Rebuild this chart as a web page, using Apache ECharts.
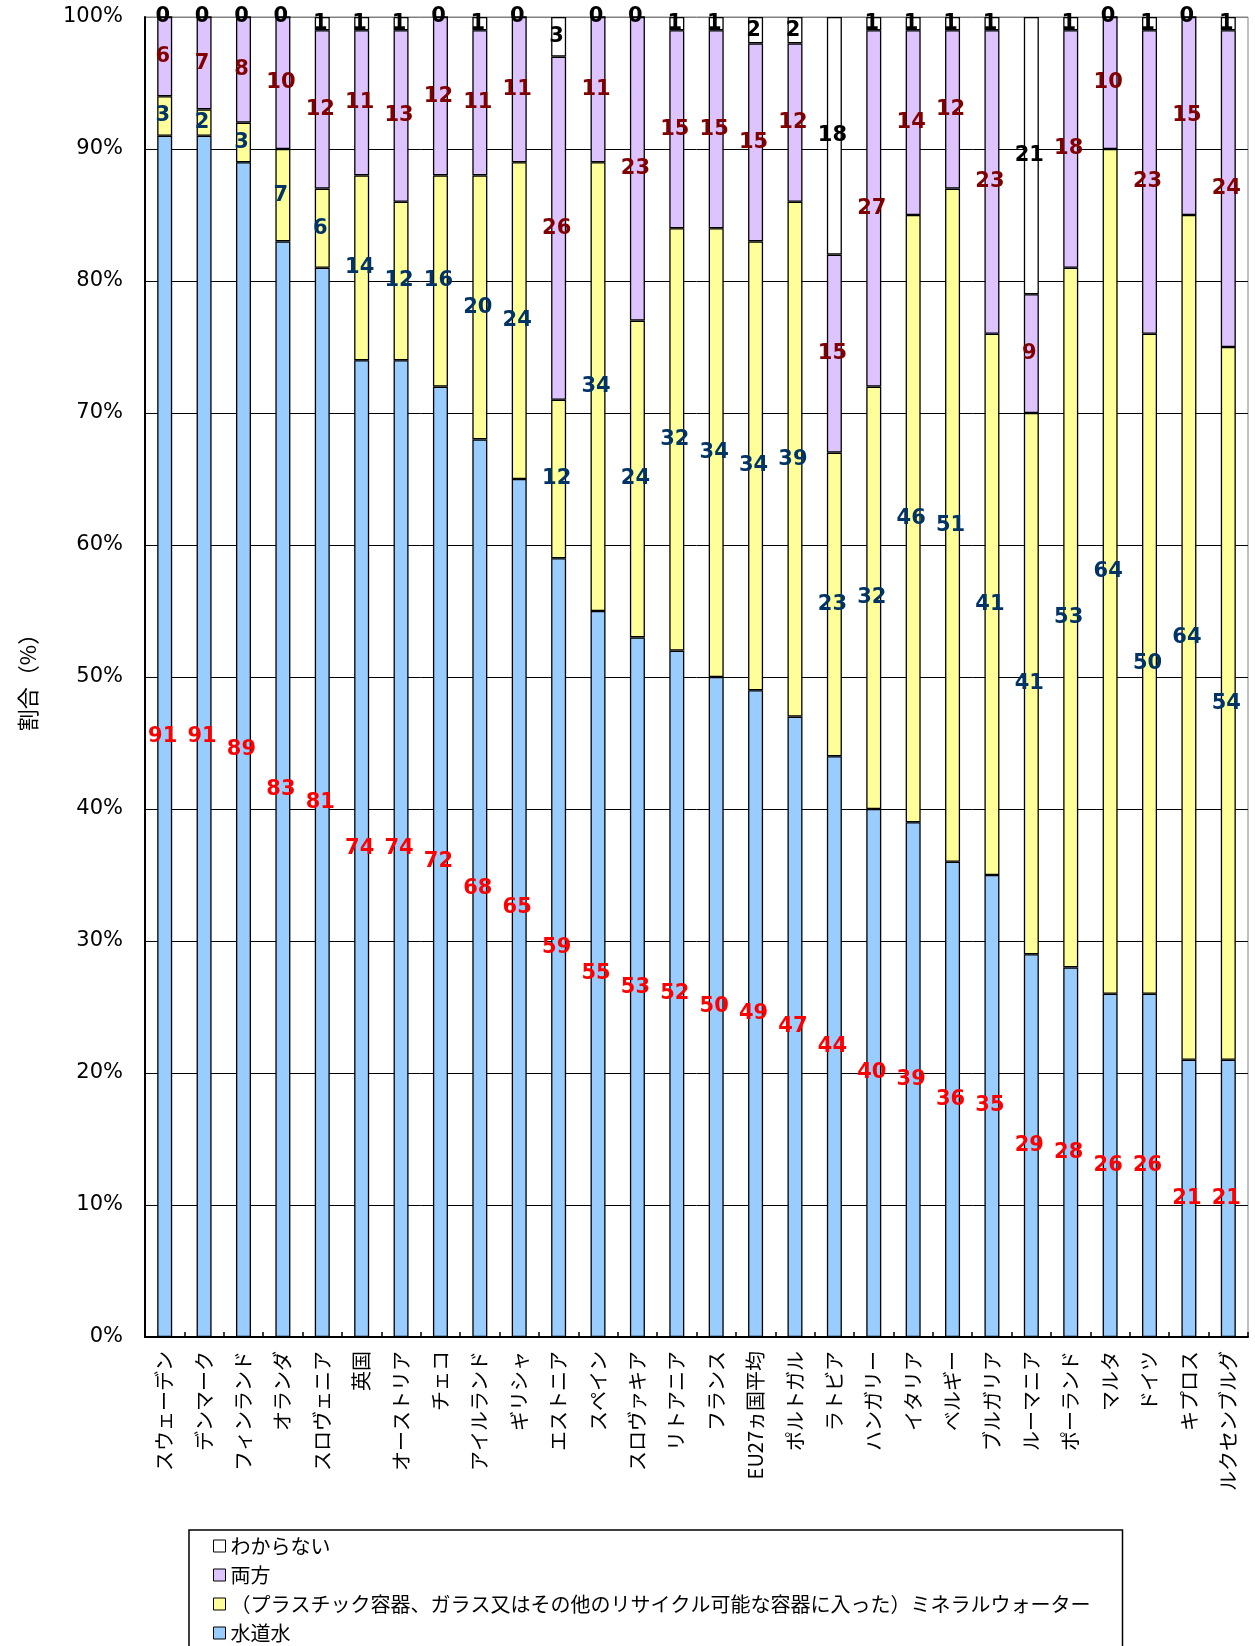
<!DOCTYPE html>
<html><head><meta charset="utf-8">
<script src="https://cdn.jsdelivr.net/npm/echarts@6/dist/echarts.min.js"></script>
<style>html,body{margin:0;padding:0;background:#fff}#c{width:1255px;height:1646px}</style>
</head><body><div id="c"></div>
<script>
const categories = ['スウェーデン','デンマーク','フィンランド','オランダ','スロヴェニア','英国','オーストリア','チェコ','アイルランド','ギリシャ','エストニア','スペイン','スロヴァキア','リトアニア','フランス','EU27ヵ国平均','ポルトガル','ラトビア','ハンガリー','イタリア','ベルギー','ブルガリア','ルーマニア','ポーランド','マルタ','ドイツ','キプロス','ルクセンブルグ'];
const tapWater = [91,91,89,83,81,74,74,72,68,65,59,55,53,52,50,49,47,44,40,39,36,35,29,28,26,26,21,21];
const mineral  = [3,2,3,7,6,14,12,16,20,24,12,34,24,32,34,34,39,23,32,46,51,41,41,53,64,50,64,54];
const both     = [6,7,8,10,12,11,13,12,11,11,26,11,23,15,15,15,12,15,27,14,12,23,9,18,10,23,15,24];
const unknown  = [0,0,0,0,1,1,1,0,1,0,3,0,0,1,1,2,2,18,1,1,1,1,21,1,0,1,0,1];
const yTicks = [0,10,20,30,40,50,60,70,80,90,100];

const seriesNames = ['水道水','（プラスチック容器、ガラス又はその他のリサイクル可能な容器に入った）ミネラルウォーター','両方','わからない'];
const seriesData = [tapWater, mineral, both, unknown];
const fills = ['#99CCFF','#FFFF99','#DEC4FF','#FFFFFF'];
const labelColors = ['#FF0000','#003366','#800000','#000000'];

const chart = echarts.init(document.getElementById('c'), null, {renderer:'canvas'});
const gridColors = yTicks.map((v,i)=> i===yTicks.length-1 ? '#808080' : '#000000');

chart.setOption({
  animation:false,
  backgroundColor:'#fff',
  grid:{left:145,right:7,top:17,bottom:309,show:true,borderColor:'#808080',borderWidth:1},
  legend:{
    orient:'vertical',left:189,top:1530,height:300,
    padding:[6,32,20,24],
    itemWidth:12,itemHeight:12,itemGap:9,
    borderColor:'#000',borderWidth:1.5,
    icon:'rect',
    data:[seriesNames[3],seriesNames[2],seriesNames[1],seriesNames[0]],
    textStyle:{fontSize:20,fontFamily:'Noto Sans CJK JP',color:'#000'},
    itemStyle:{borderColor:'#000',borderWidth:1}
  },
  xAxis:{
    type:'category',data:categories,
    axisLine:{lineStyle:{color:'#000',width:2}},
    axisTick:{show:true,inside:true,length:5,alignWithLabel:false,lineStyle:{color:'#000',width:1.5}},
    axisLabel:{rotate:90,interval:0,margin:14,fontSize:20,fontFamily:'Noto Sans CJK JP',color:'#000'}
  },
  yAxis:{
    type:'value',min:0,max:100,interval:10,
    name:'割合（%）',nameLocation:'middle',nameGap:106,
    nameTextStyle:{fontSize:22,fontFamily:'Noto Sans CJK JP',color:'#000'},
    axisLine:{show:true,lineStyle:{color:'#000',width:2}},
    axisTick:{show:false},
    axisLabel:{formatter:'{value}%',fontSize:21,fontFamily:'DejaVu Sans',color:'#000',margin:22},
    splitLine:{show:true,lineStyle:{color:gridColors,width:1}}
  },
  series: seriesNames.map((n,i)=>({
    name:n,type:'bar',stack:'total',barWidth:15,
    data:seriesData[i],
    itemStyle:{color:fills[i],borderColor:'#000',borderWidth:1.3},
    label:{show:true,position:'inside',offset:[-2,0],color:labelColors[i],fontSize:21,fontWeight:'bold',fontFamily:'DejaVu Sans'}
  }))
});
</script></body></html>
